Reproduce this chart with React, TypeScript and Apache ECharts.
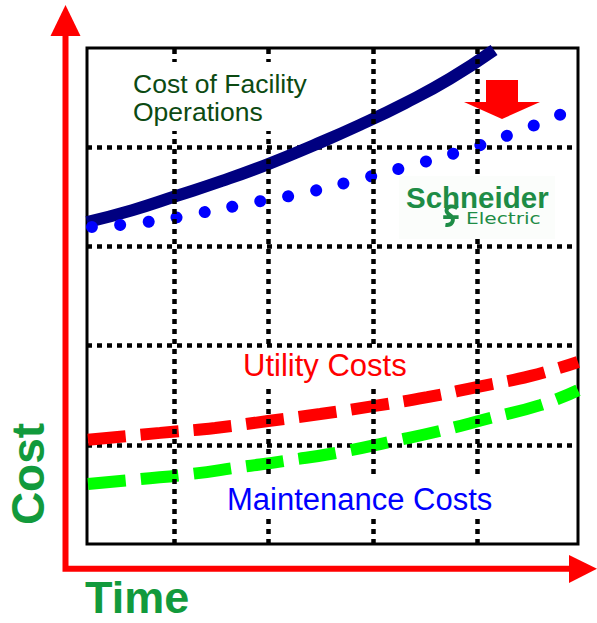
import React, { useEffect, useRef } from "react";
import * as echarts from "echarts";

// Conceptual time axis (0..100) and cost axis (0..100)
const facilityTime = [0, 9.2, 18.3, 27.5, 36.9, 46.2, 55.6, 64.8, 73.9, 82.9];
const facilityCost = [64.9, 67.3, 70.2, 73.2, 76.6, 80.4, 84.5, 88.9, 93.8, 99.6];

const reducedTime = [1.0, 12.0, 22.8, 33.6, 44.4, 55.0, 65.6, 76.2, 86.6, 96.7];
const reducedCost = [63.9, 64.9, 66.7, 68.8, 70.8, 73.4, 76.2, 79.2, 82.7, 86.7];

const utilityTime = [0.2, 14.9, 26.1, 36.9, 47.5, 58.3, 69.3, 79.6, 90.4, 100];
const utilityCost = [21.0, 22.4, 23.4, 24.8, 26.2, 27.8, 29.6, 31.7, 33.9, 36.7];

const maintenanceTime = [0.2, 10.8, 21.0, 31.2, 41.3, 51.5, 61.7, 71.9, 82.1, 92.3, 100];
const maintenanceCost = [12.1, 13.1, 14.1, 15.5, 16.9, 18.5, 20.6, 22.8, 25.4, 28.0, 31.0];

const verticalGridTimes = [17.7, 36.9, 58.2, 79.4];

const iconPath =
  "M15 3 C11 0 5 1 5 5 C5 8 9 9 10 11 C12 14 10 19 4 18 M2 11 L16 11";

const zip = (xs: number[], ys: number[]) => xs.map((x, i) => [x, ys[i]]);

const GRID_DASH = [5, 5];
const SANS = '"Liberation Sans", Arial, sans-serif';

export default function App() {
  const ref = useRef<HTMLDivElement>(null);

  useEffect(() => {
    document.body.style.margin = "0";
    echarts.graphic.registerShape(
      "seLogo",
      echarts.graphic.extendPath(iconPath, {}) as any
    );
    const chart = echarts.init(ref.current!, null, { renderer: "svg" });

    const textEl = (
      text: string,
      x: number,
      y: number,
      size: number,
      color: string,
      extra: any = {}
    ) => ({
      type: "text",
      x,
      y,
      z: 20,
      rotation: extra.rotation,
      scaleX: extra.scaleX,
      style: {
        text,
        fill: color,
        fontSize: size,
        fontFamily: extra.family || SANS,
        fontWeight: extra.bold ? "bold" : "normal",
        align: extra.align || "left",
        textAlign: extra.align || "left",
        verticalAlign: "middle",
        textVerticalAlign: "middle",
      },
    });

    chart.setOption({
      animation: false,
      backgroundColor: "#ffffff",
      grid: {
        left: 87,
        top: 48,
        width: 491,
        height: 496,
        show: true,
        borderColor: "#000000",
        borderWidth: 3,
        backgroundColor: "transparent",
      },
      xAxis: {
        type: "value",
        min: 0,
        max: 100,
        axisLine: { show: false },
        axisTick: { show: false },
        axisLabel: { show: false },
        splitLine: { show: false },
      },
      yAxis: {
        type: "value",
        min: 0,
        max: 100,
        interval: 20,
        axisLine: { show: false },
        axisTick: { show: false },
        axisLabel: { show: false },
        splitLine: {
          show: true,
          showMinLine: false,
          showMaxLine: false,
          lineStyle: { color: "#000000", width: 4.5, type: GRID_DASH },
        },
      },
      series: [
        {
          type: "line",
          z: 1,
          silent: true,
          data: [[0, 0]],
          showSymbol: false,
          symbol: "none",
          lineStyle: { width: 0, opacity: 0 },
          markLine: {
            silent: true,
            symbol: ["none", "none"],
            label: { show: false },
            lineStyle: { color: "#000000", width: 4.5, type: GRID_DASH },
            data: verticalGridTimes.map((v) => ({ xAxis: v })),
          },
        },
        {
          name: "Cost of Facility Operations",
          type: "line",
          z: 3,
          smooth: 0.5,
          clip: false,
          symbol: "none",
          data: zip(facilityTime, facilityCost),
          lineStyle: { color: "#000080", width: 12 },
        },
        {
          name: "Reduced Cost",
          type: "line",
          z: 4,
          smooth: 0.5,
          clip: false,
          symbol: "none",
          data: zip(reducedTime, reducedCost),
          lineStyle: { color: "#0000ff", width: 12, type: [0.01, 28.4], cap: "round" },
        },
        {
          name: "Utility Costs",
          type: "line",
          z: 4,
          smooth: 0.5,
          symbol: "none",
          data: zip(utilityTime, utilityCost),
          lineStyle: { color: "#ff0000", width: 12, type: [38, 15] },
        },
        {
          name: "Maintenance Costs",
          type: "line",
          z: 4,
          smooth: 0.5,
          symbol: "none",
          data: zip(maintenanceTime, maintenanceCost),
          lineStyle: { color: "#00ff00", width: 12, type: [38, 15] },
        },
      ],
      graphic: [
        // white backing boxes behind labels (hide grid lines)
        { type: "rect", z: 10, shape: { x: 128, y: 62, width: 190, height: 69 }, style: { fill: "#ffffff" } },
        { type: "rect", z: 10, shape: { x: 238, y: 349, width: 174, height: 35 }, style: { fill: "#ffffff" } },
        { type: "rect", z: 10, shape: { x: 222, y: 479, width: 280, height: 39 }, style: { fill: "#ffffff" } },
        { type: "rect", z: 10, shape: { x: 399, y: 176, width: 156, height: 63 }, style: { fill: "#fbfdfb" } },
        // axes arrows
        {
          type: "polyline",
          z: 20,
          shape: { points: [[65.5, 34], [65.5, 568.7], [572, 568.7]] },
          style: { stroke: "#ff0000", lineWidth: 6, fill: "none", lineJoin: "miter" },
        },
        {
          type: "polygon",
          z: 20,
          shape: { points: [[65.5, 5], [80.5, 36], [50.5, 36]] },
          style: { fill: "#ff0000" },
        },
        {
          type: "polygon",
          z: 20,
          shape: { points: [[569, 555], [597, 568.7], [569, 583]] },
          style: { fill: "#ff0000" },
        },
        // red down arrow
        {
          type: "polygon",
          z: 20,
          shape: {
            points: [[486, 80], [518, 80], [518, 102], [540, 102], [502, 119], [464, 102], [486, 102]],
          },
          style: { fill: "#ff0000" },
        },
        // labels
        textEl("Cost of Facility", 133, 83.5, 26.5, "#0c4a12"),
        textEl("Operations", 133, 111.5, 26.5, "#0c4a12"),
        textEl("Utility Costs", 243, 365.5, 31, "#ff0000"),
        textEl("Maintenance Costs", 227, 499.5, 31, "#0000ff"),
        textEl("Cost", 27.5, 474, 46, "#129a3c", { bold: true, align: "center", rotation: Math.PI / 2 }),
        textEl("Time", 85, 597.5, 45, "#129a3c", { bold: true }),
        // logo
        textEl("Schneider", 406, 197, 29.5, "#1e8c46", { bold: true }),
        textEl("Electric", 466, 218.5, 15.5, "#1e8c46", {
          scaleX: 1.3,
          family: '"DejaVu Sans", sans-serif',
        }),
        {
          type: "seLogo",
          z: 20,
          x: 441,
          y: 205,
          scaleX: 1.1,
          scaleY: 1.1,
          style: { fill: "none", stroke: "#1e8c46", lineWidth: 3.5 },
        },
      ],
    });

    return () => chart.dispose();
  }, []);

  return <div ref={ref} style={{ width: 597, height: 623 }} />;
}
